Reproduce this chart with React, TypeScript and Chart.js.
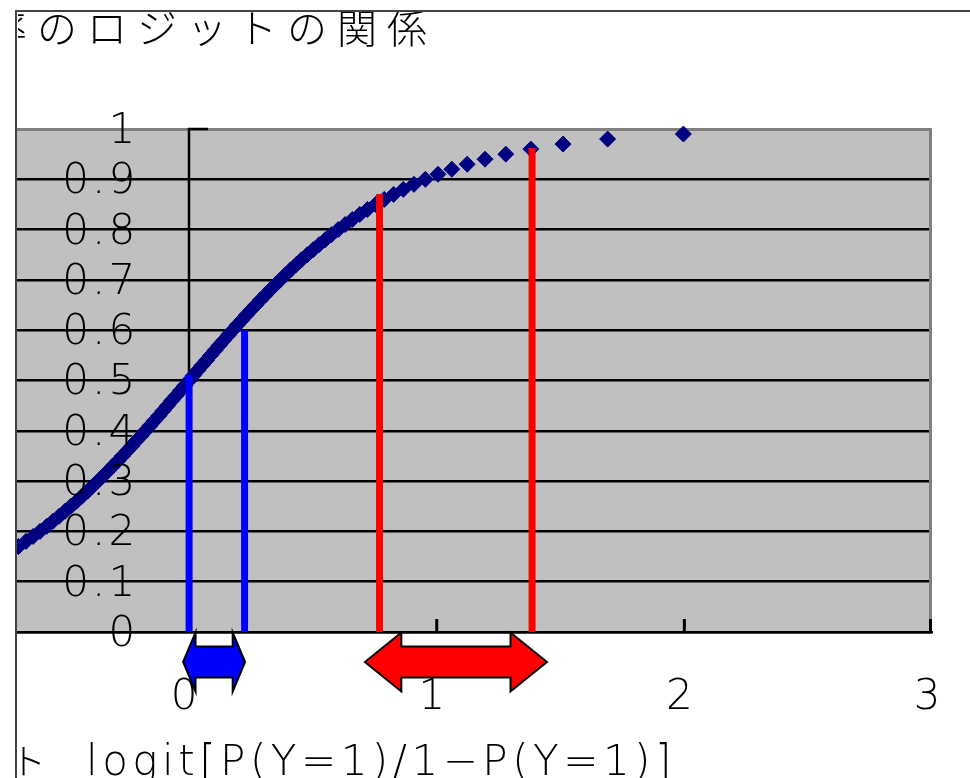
import React, { useEffect, useRef } from 'react';
import { Chart, registerables } from 'chart.js';

Chart.register(...registerables);

// ---- data ----
const probabilities = [
  0.16, 0.17, 0.18, 0.19, 0.2, 0.21, 0.22, 0.23, 0.24, 0.25, 0.26, 0.27, 0.28, 0.29,
  0.3, 0.31, 0.32, 0.33, 0.34, 0.35, 0.36, 0.37, 0.38, 0.39, 0.4, 0.41, 0.42, 0.43,
  0.44, 0.45, 0.46, 0.47, 0.48, 0.49, 0.5, 0.51, 0.52, 0.53, 0.54, 0.55, 0.56, 0.57,
  0.58, 0.59, 0.6, 0.61, 0.62, 0.63, 0.64, 0.65, 0.66, 0.67, 0.68, 0.69, 0.7, 0.71,
  0.72, 0.73, 0.74, 0.75, 0.76, 0.77, 0.78, 0.79, 0.8, 0.81, 0.82, 0.83, 0.84, 0.85,
  0.86, 0.87, 0.88, 0.89, 0.9, 0.91, 0.92, 0.93, 0.94, 0.95, 0.96, 0.97, 0.98, 0.99,
];
const logOdds = [
  -0.72, -0.689, -0.659, -0.63, -0.602, -0.575, -0.55, -0.525, -0.501, -0.477, -0.454, -0.432, -0.41, -0.389,
  -0.368, -0.348, -0.327, -0.308, -0.288, -0.269, -0.25, -0.231, -0.213, -0.194, -0.176, -0.158, -0.14, -0.122,
  -0.105, -0.087, -0.07, -0.052, -0.035, -0.017, 0, 0.017, 0.035, 0.052, 0.07, 0.087, 0.105, 0.122,
  0.14, 0.158, 0.176, 0.194, 0.213, 0.231, 0.25, 0.269, 0.288, 0.308, 0.327, 0.348, 0.368, 0.389,
  0.41, 0.432, 0.454, 0.477, 0.501, 0.525, 0.55, 0.575, 0.602, 0.63, 0.659, 0.689, 0.72, 0.753,
  0.788, 0.826, 0.865, 0.908, 0.954, 1.005, 1.061, 1.123, 1.195, 1.279, 1.38, 1.51, 1.69, 1.996,
];

const markerLineX = [0, 0.224, 0.769, 1.385];
const markerLineTop = [0.511, 0.6, 0.871, 0.962];
const markerLineColors = ['#0000FF', '#0000FF', '#FF0000', '#FF0000'];

const arrowFrom = [-0.024, 0.71];
const arrowTo = [0.226, 1.445];
const arrowColors = ['#0000FF', '#FF0000'];

const xTickValues = [0, 1, 2, 3];
const xTickLabels = ['0', '1', '2', '3'];
const yTickValues = [0, 0.1, 0.2, 0.3, 0.4, 0.5, 0.6, 0.7, 0.8, 0.9, 1];
const yTickLabels = ['0', '0.1', '0.2', '0.3', '0.4', '0.5', '0.6', '0.7', '0.8', '0.9', '1'];

const chartTitle = '率のロジットの関係';
const xTitlePrefix = 'ト';
const xTitle = 'logit[P(Y=1)/1−P(Y=1)]';

// ---- styles ----
const NUM_FONT = '200 42px "DejaVu Sans"';
const CJK_FONT = '300 40px "Noto Sans CJK JP"';

const decorPlugin = {
  id: 'decor',
  beforeDraw(chart: any) {
    const { ctx, chartArea: a } = chart;
    ctx.save();
    ctx.fillStyle = '#FFFFFF';
    ctx.fillRect(0, 0, chart.width, chart.height);
    ctx.fillStyle = '#C0C0C0';
    ctx.fillRect(a.left, a.top, a.right - a.left, a.bottom - a.top);
    ctx.restore();
  },
  beforeDatasetsDraw(chart: any) {
    const { ctx, chartArea: a } = chart;
    const xs = chart.scales.x;
    const ys = chart.scales.y;
    ctx.save();
    // right border of plot
    ctx.strokeStyle = '#808080';
    ctx.lineWidth = 3;
    ctx.beginPath();
    ctx.moveTo(a.right - 1.5, a.top);
    ctx.lineTo(a.right - 1.5, a.bottom);
    ctx.stroke();
    // y axis at x = 0
    const x0 = Math.round(xs.getPixelForValue(0));
    const yTop = ys.getPixelForValue(1);
    const yBot = ys.getPixelForValue(0);
    ctx.strokeStyle = '#000000';
    ctx.lineWidth = 2.5;
    ctx.beginPath();
    ctx.moveTo(x0, yTop - 1);
    ctx.lineTo(x0, yBot);
    ctx.moveTo(x0 - 1, yTop);
    ctx.lineTo(x0 + 19, yTop);
    ctx.stroke();
    ctx.restore();
  },
  afterDatasetsDraw(chart: any) {
    const { ctx, chartArea: a } = chart;
    const xs = chart.scales.x;
    const ys = chart.scales.y;
    const x0 = xs.getPixelForValue(0);
    ctx.save();

    // x tick marks (inside, upward)
    ctx.strokeStyle = '#000000';
    ctx.lineWidth = 3;
    ctx.beginPath();
    xTickValues.forEach((v) => {
      if (v === 0) return;
      const px = Math.min(xs.getPixelForValue(v), a.right - 1.5);
      ctx.moveTo(px, a.bottom);
      ctx.lineTo(px, a.bottom - 13);
    });
    ctx.stroke();

    // y tick labels
    ctx.fillStyle = '#000000';
    ctx.font = NUM_FONT;
    ctx.textAlign = 'right';
    ctx.textBaseline = 'middle';
    (ctx as any).letterSpacing = '3px';
    yTickValues.forEach((v, i) => {
      ctx.fillText(yTickLabels[i], x0 - 51, ys.getPixelForValue(v) + 3);
    });
    (ctx as any).letterSpacing = '0px';

    // x tick labels
    ctx.textAlign = 'center';
    xTickValues.forEach((v, i) => {
      ctx.fillText(xTickLabels[i], xs.getPixelForValue(v) - 5, a.bottom + 66);
    });

    // double arrows under the axis
    const cy = a.bottom + 30;
    const H = 29.5;
    const S = 15.5;
    arrowFrom.forEach((f, i) => {
      const x1 = xs.getPixelForValue(f);
      const x2 = xs.getPixelForValue(arrowTo[i]);
      const h = (x2 - x1) * 0.2;
      ctx.beginPath();
      ctx.moveTo(x1, cy);
      ctx.lineTo(x1 + h, cy - H);
      ctx.lineTo(x1 + h, cy - S);
      ctx.lineTo(x2 - h, cy - S);
      ctx.lineTo(x2 - h, cy - H);
      ctx.lineTo(x2, cy);
      ctx.lineTo(x2 - h, cy + H);
      ctx.lineTo(x2 - h, cy + S);
      ctx.lineTo(x1 + h, cy + S);
      ctx.lineTo(x1 + h, cy + H);
      ctx.closePath();
      ctx.fillStyle = arrowColors[i];
      ctx.fill();
      ctx.strokeStyle = '#000000';
      ctx.lineWidth = 2;
      ctx.lineJoin = 'miter';
      ctx.stroke();
    });

    // titles, clipped at the outer frame
    ctx.save();
    ctx.beginPath();
    ctx.rect(18, 12, chart.width - 18, chart.height - 12);
    ctx.clip();
    ctx.fillStyle = '#000000';
    ctx.textAlign = 'left';
    ctx.textBaseline = 'middle';
    ctx.font = CJK_FONT;
    (ctx as any).letterSpacing = '10px';
    ctx.fillText(chartTitle, -13, 28);
    (ctx as any).letterSpacing = '0px';
    ctx.font = '300 36px "Noto Sans CJK JP"';
    ctx.textBaseline = 'alphabetic';
    ctx.fillText(xTitlePrefix, 10, 775);
    ctx.font = NUM_FONT;
    (ctx as any).letterSpacing = '4.5px';
    ctx.fillText(xTitle, 86, 775);
    (ctx as any).letterSpacing = '0px';
    ctx.restore();

    // outer frame
    ctx.strokeStyle = '#444444';
    ctx.lineWidth = 2;
    ctx.beginPath();
    ctx.moveTo(16, chart.height);
    ctx.lineTo(16, 11);
    ctx.lineTo(chart.width, 11);
    ctx.stroke();

    ctx.restore();
  },
};

export default function App() {
  const canvasRef = useRef<HTMLCanvasElement | null>(null);

  useEffect(() => {
    const canvas = canvasRef.current;
    if (!canvas) return;

    const pointData = probabilities.map((p, i) => ({ x: logOdds[i], y: p }));
    const lineSets = markerLineX.map((xv, i) => ({
      type: 'line' as const,
      data: [
        { x: xv, y: 0 },
        { x: xv, y: markerLineTop[i] },
      ],
      borderColor: markerLineColors[i],
      backgroundColor: markerLineColors[i],
      borderWidth: 7,
      borderCapStyle: 'butt' as const,
      pointRadius: 0,
      showLine: true,
      fill: false,
      order: 0,
    }));

    const chart = new Chart(canvas, {
      type: 'scatter',
      data: {
        datasets: [
          ...lineSets,
          {
            data: pointData,
            pointStyle: 'rectRot',
            pointRadius: 8,
            pointBorderWidth: 1,
            backgroundColor: '#000080',
            borderColor: '#000080',
            showLine: false,
            order: 1,
            clip: { left: 0, top: 10, right: 0, bottom: 0 },
          } as any,
        ],
      },
      plugins: [decorPlugin],
      options: {
        responsive: false,
        animation: false,
        devicePixelRatio: 1,
        layout: { padding: { left: 17, right: 38, top: 129, bottom: 146 } },
        plugins: {
          legend: { display: false },
          tooltip: { enabled: false },
          title: { display: false },
        },
        scales: {
          x: {
            type: 'linear',
            min: -0.695,
            max: 3,
            grid: { display: false },
            ticks: { display: false },
            border: { display: true, color: '#000000', width: 2.5 },
            afterFit: (s: any) => {
              s.height = 0;
            },
          },
          y: {
            type: 'linear',
            min: 0,
            max: 1,
            ticks: { display: false, stepSize: 0.1 },
            grid: {
              display: true,
              drawTicks: false,
              color: (c: any) => (c.tick && c.tick.value >= 0.999 ? '#808080' : '#000000'),
              lineWidth: (c: any) => (c.tick && c.tick.value >= 0.999 ? 3 : 2.5),
            },
            border: { display: false },
            afterFit: (s: any) => {
              s.width = 0;
            },
          },
        },
      } as any,
    });

    return () => {
      chart.destroy();
    };
  }, []);

  return (
    <canvas
      ref={canvasRef}
      width={970}
      height={778}
      style={{ position: 'absolute', left: 0, top: 0, display: 'block' }}
    />
  );
}
